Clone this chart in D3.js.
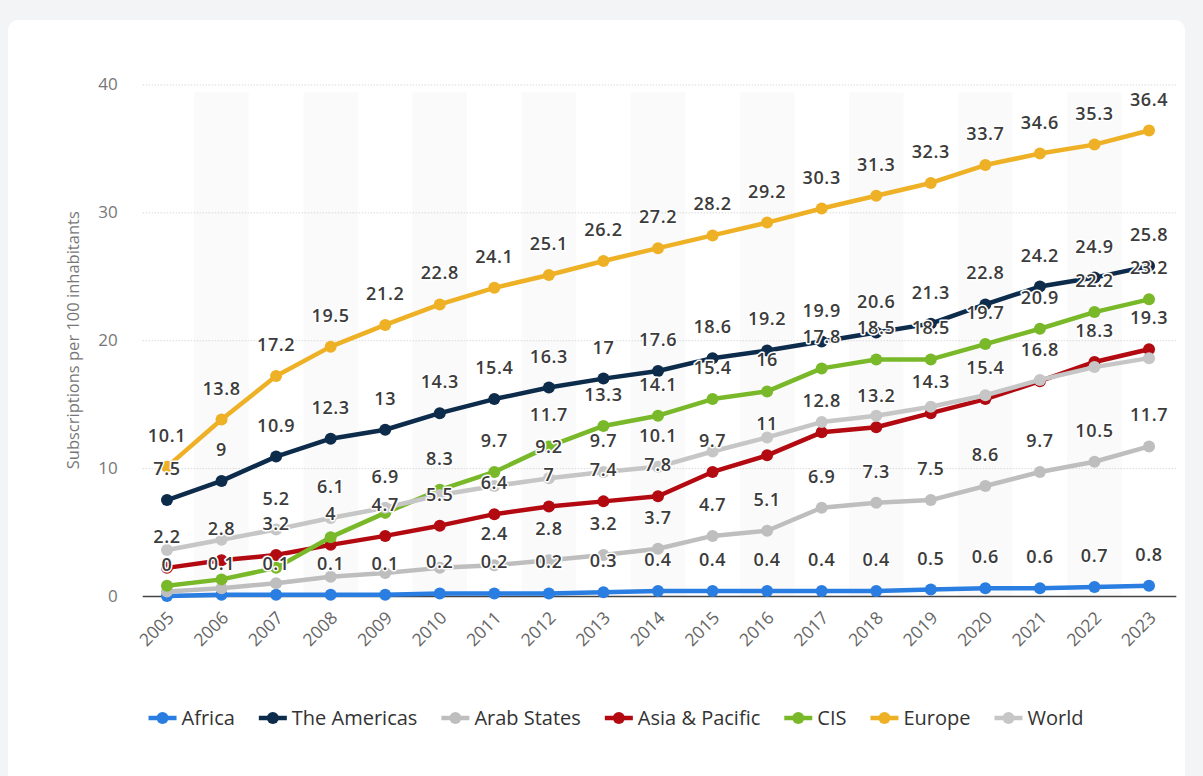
<!DOCTYPE html>
<html><head><meta charset="utf-8">
<script src="https://cdn.jsdelivr.net/npm/d3@7"></script>
<style>
html,body{margin:0;padding:0;background:#f3f4f6;overflow:hidden;}
svg{display:block;font-family:"Open Sans",sans-serif;}
</style></head><body>
<svg id="chart" width="1203" height="776"></svg>
<script>
const years = [2005,2006,2007,2008,2009,2010,2011,2012,2013,2014,2015,2016,2017,2018,2019,2020,2021,2022,2023];
const africa      = [0,0.1,0.1,0.1,0.1,0.2,0.2,0.2,0.3,0.4,0.4,0.4,0.4,0.4,0.5,0.6,0.6,0.7,0.8];
const americas    = [7.5,9,10.9,12.3,13,14.3,15.4,16.3,17,17.6,18.6,19.2,19.9,20.6,21.3,22.8,24.2,24.9,25.8];
const arabStates  = [0.35,0.6,1.0,1.5,1.8,2.2,2.4,2.8,3.2,3.7,4.7,5.1,6.9,7.3,7.5,8.6,9.7,10.5,11.7];
const asiaPacific = [2.2,2.8,3.2,4,4.7,5.5,6.4,7,7.4,7.8,9.7,11,12.8,13.2,14.3,15.4,16.8,18.3,19.3];
const cis         = [0.8,1.3,2.2,4.6,6.5,8.3,9.7,11.7,13.3,14.1,15.4,16,17.8,18.5,18.5,19.7,20.9,22.2,23.2];
const europe      = [10.1,13.8,17.2,19.5,21.2,22.8,24.1,25.1,26.2,27.2,28.2,29.2,30.3,31.3,32.3,33.7,34.6,35.3,36.4];
const world       = [3.6,4.4,5.2,6.1,6.9,7.9,8.6,9.2,9.7,10.1,11.3,12.4,13.6,14.1,14.8,15.7,16.9,17.9,18.6];
const seriesNames = ["Africa","The Americas","Arab States","Asia & Pacific","CIS","Europe","World"];
const seriesColors = ["#2a7de1","#0d2b4a","#bebebe","#b20a10","#79b829","#eeb126","#c6c6c6"];
const yTicks = [0,10,20,30,40];
const yTitle = "Subscriptions per 100 inhabitants";
// data labels hidden by overlap in the original
const hiddenLabels = {
  "Arab States": [2005,2006,2007,2008,2009,2010],
  "CIS": [2005,2006,2007,2008,2009],
  "World": [2005,2006,2010,2011,2015,2016,2017,2018,2019,2020,2021,2022,2023]
};

const seriesValues = [africa, americas, arabStates, asiaPacific, cis, europe, world];
const series = seriesNames.map((name,i)=>({name, color:seriesColors[i], values:seriesValues[i]}));

const svg = d3.select("#chart");
// card
svg.append("rect").attr("x",8).attr("y",20).attr("width",1177).attr("height",780)
  .attr("rx",10).attr("fill","#ffffff");

const pLeft = 139.7, pRight = 1176.3, pTop = 84.5, pBottom = 596;
const x = d3.scaleBand().domain(years).range([pLeft,pRight]).paddingInner(0).paddingOuter(0);
const y = d3.scaleLinear().domain([0,40]).range([pBottom,pTop]);
const cx = d => x(d) + x.bandwidth()/2;

// alternating bands
svg.append("g").selectAll("rect").data(years.filter((d,i)=>i%2===1)).join("rect")
  .attr("x",d=>x(d)).attr("width",x.bandwidth())
  .attr("y",pTop+8).attr("height",pBottom-pTop-8)
  .attr("fill","#fafafa");

// gridlines
const yAxis = d3.axisLeft(y).tickValues(yTicks).tickSize(-(pRight-pLeft-3)).tickPadding(25);
const gy = svg.append("g").attr("transform",`translate(${pLeft+3},0)`).call(yAxis);
gy.select(".domain").remove();
gy.selectAll(".tick line").attr("stroke","#c8c8c8").attr("stroke-dasharray","1,2");
gy.selectAll(".tick text").attr("fill","#777").attr("font-size",17).attr("font-family","Open Sans");
gy.selectAll(".tick").filter(d=>d===0).select("line").attr("stroke","#444").attr("stroke-dasharray",null).attr("stroke-width",1.5);

// y title
svg.append("text").attr("transform",`translate(79,${(pTop+pBottom)/2}) rotate(-90)`)
  .attr("text-anchor","middle").attr("fill","#777").attr("font-size",16.5).text(yTitle);

// x axis labels
const xAxis = d3.axisBottom(x).tickSize(0).tickPadding(0);
const gx = svg.append("g").attr("transform",`translate(0,${pBottom})`).call(xAxis);
gx.select(".domain").remove();
gx.selectAll(".tick text")
  .attr("font-size",17.5).attr("fill","#666").attr("font-family","Open Sans")
  .attr("text-anchor","end").attr("dy",null).attr("y",0)
  .attr("transform","translate(8,23) rotate(-45)");

// lines and markers
const line = d3.line().x((d,i)=>cx(years[i])).y(d=>y(d));
const gs = svg.append("g");
series.forEach(s=>{
  const g = gs.append("g");
  g.append("path").datum(s.values).attr("d",line).attr("fill","none")
    .attr("stroke",s.color).attr("stroke-width",4.5).attr("stroke-linejoin","round");
  g.selectAll("circle").data(s.values).join("circle")
    .attr("cx",(d,i)=>cx(years[i])).attr("cy",d=>y(d)).attr("r",6).attr("fill",s.color);
});

// data labels
const gl = svg.append("g");
series.forEach(s=>{
  const hid = hiddenLabels[s.name] || [];
  s.values.forEach((v,i)=>{
    if (hid.includes(years[i])) return;
    gl.append("text").attr("x",cx(years[i])).attr("y",y(v)-25)
      .attr("text-anchor","middle").attr("font-size",18).attr("font-weight",600)
      .attr("letter-spacing",0.6)
      .attr("fill","#3c3c3c").attr("stroke","#ffffff").attr("stroke-width",3)
      .attr("stroke-linejoin","round").attr("paint-order","stroke").text(String(v));
  });
});

// legend
const lg = svg.append("g");
const items = [];
series.forEach(s=>{
  const it = lg.append("g");
  it.append("line").attr("x1",0).attr("x2",28).attr("y1",0).attr("y2",0)
    .attr("stroke",s.color).attr("stroke-width",4.5);
  it.append("circle").attr("cx",14).attr("cy",0).attr("r",6).attr("fill",s.color);
  const t = it.append("text").attr("x",33).attr("y",7).attr("font-size",20).attr("font-weight",500)
    .attr("fill","#333").text(s.name);
  const w = 33 + t.node().getComputedTextLength();
  items.push({it, w});
});
const gap = 24;
const total = d3.sum(items,d=>d.w) + gap*(items.length-1);
let start = 616 - total/2;
items.forEach(d=>{ d.it.attr("transform",`translate(${start},718)`); start += d.w + gap; });
</script>
</body></html>
